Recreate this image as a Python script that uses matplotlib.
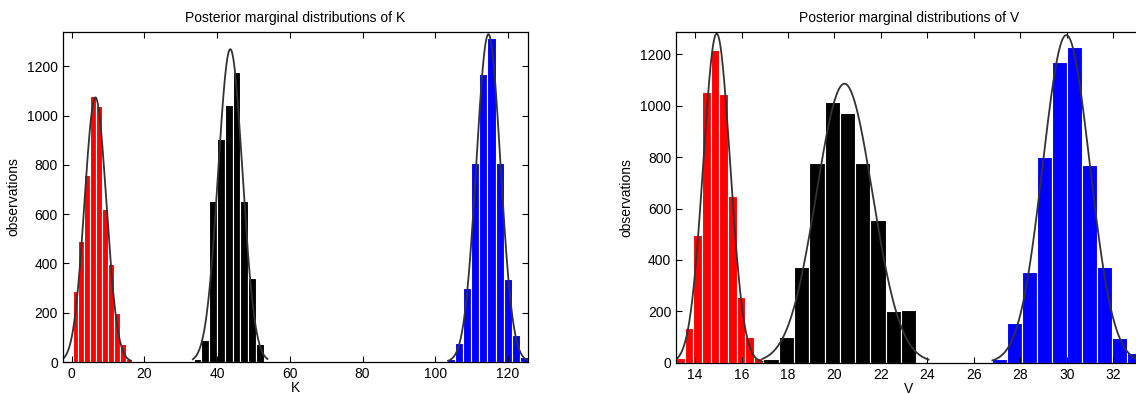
import numpy as np
import matplotlib
matplotlib.use("Agg")
import matplotlib.pyplot as plt

# histogram counts (10 bins per chain)
K_RED = [288, 491, 758, 1079, 1038, 623, 397, 200, 72, 11]
K_BLACK = [14, 91, 654, 907, 1045, 1179, 654, 341, 72, 4]
K_BLUE = [14, 77, 302, 810, 1170, 1317, 810, 336, 111, 20]
K_EDGES = {"red": (0.2, 16.5), "black": (33.5, 55.0), "blue": (103.2, 125.5)}
# fitted normal: (mean, sigma, curve from, curve to)
K_FIT = {"red": (6.5, 3.0, -2.5, 16.2), "black": (43.6, 3.35, 33.3, 53.8),
         "blue": (114.6, 3.32, 103.5, 125.5)}

V_RED = [17, 134, 497, 1055, 1217, 1046, 650, 257, 99, 17]
V_BLACK = [13, 101, 374, 776, 1016, 973, 778, 555, 201, 205]
V_BLUE = [13, 153, 354, 802, 1169, 1227, 771, 374, 95, 39]
V_EDGES = {"red": (13.18, 16.9), "black": (16.94, 23.52), "blue": (26.78, 33.24)}
V_FIT = {"red": (14.93, 0.578, 13.18, 16.9), "black": (20.43, 1.207, 16.9, 24.05),
         "blue": (29.98, 1.01, 26.8, 33.3)}

COLORS = {"red": "#ff0000", "black": "#000000", "blue": "#0000ff"}
CURVE = "#333333"

plt.rcParams.update({
    "font.family": ["Liberation Sans", "DejaVu Sans"], "font.size": 10,
    "axes.linewidth": 0.9,
    "xtick.direction": "in", "ytick.direction": "in",
    "xtick.top": True, "ytick.right": True,
    "xtick.major.size": 4, "ytick.major.size": 4,
})

fig = plt.figure(figsize=(11.36, 3.94), dpi=100)
axK = fig.add_axes([0.0552, 0.0812, 0.4096, 0.8376])
axV = fig.add_axes([0.5951, 0.0794, 0.4102, 0.8394])


def draw(ax, counts, edges, fits):
    for name, cnt in counts.items():
        lo, hi = edges[name]
        e = np.linspace(lo, hi, len(cnt) + 1)
        n = sum(cnt)
        ax.bar(e[:-1], cnt, width=np.diff(e), align="edge", color=COLORS[name],
               edgecolor="white", linewidth=0.8, zorder=1)
        mu, sd, a, b = fits[name]
        xs = np.linspace(a, b, 300)
        w = (hi - lo) / len(cnt)
        ys = n * w / (sd * np.sqrt(2 * np.pi)) * np.exp(-0.5 * ((xs - mu) / sd) ** 2)
        ax.plot(xs, ys, color=CURVE, lw=1.3, zorder=2)


draw(axK, {"red": K_RED, "black": K_BLACK, "blue": K_BLUE}, K_EDGES, K_FIT)
axK.set_xlim(-2.5, 125.5)
axK.set_ylim(0, 1340)
axK.set_xticks(range(0, 121, 20))
axK.set_yticks(range(0, 1201, 200))
axK.set_title("Posterior marginal distributions of K", fontsize=10, pad=7)
axK.set_xlabel("K", labelpad=0)
axK.set_ylabel("observations", labelpad=5)

draw(axV, {"red": V_RED, "black": V_BLACK, "blue": V_BLUE}, V_EDGES, V_FIT)
axV.set_xlim(13.18, 33.24)
axV.set_ylim(0, 1287)
axV.set_xticks(range(14, 33, 2))
axV.set_yticks(range(0, 1201, 200))
axV.set_title("Posterior marginal distributions of V", fontsize=10, pad=7)
axV.set_xlabel("V", labelpad=0)
axV.set_ylabel("observations", labelpad=5)

fig.savefig("out.png", dpi=100)
